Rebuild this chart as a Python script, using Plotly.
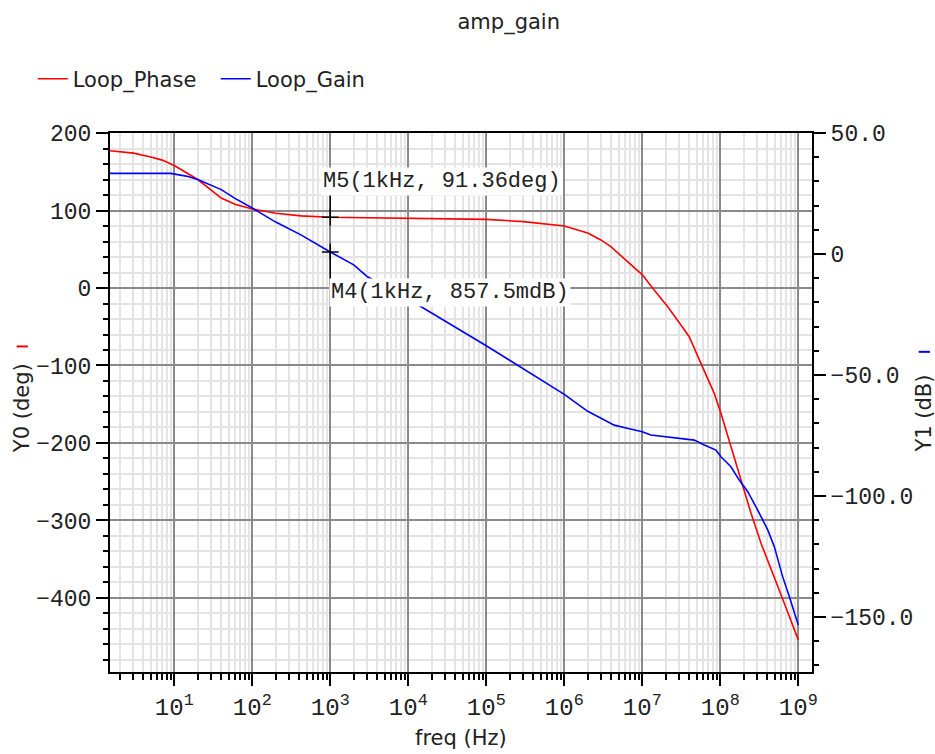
import plotly.graph_objects as go

# ---------------- data ----------------
phase_freq = [1.5, 3, 5, 7, 10, 15, 20, 30, 40, 60, 100, 200, 420, 1000, 1e4, 1e5, 3e5,
              1e6, 2e6, 2.94e6, 3.95e6, 5.86e6, 1.01e7, 1.42e7, 2.11e7, 3.13e7, 4.0e7,
              5.65e7, 8.37e7, 1.02e8, 1.37e8, 1.85e8, 2.48e8, 3.33e8, 4.93e8, 6.62e8, 1e9]
phase_deg = [177, 174, 169, 165, 158, 148, 140, 126, 116, 108, 102, 96.5, 93, 91.36, 90.4, 88.6, 85.6,
             80, 71, 62, 53.3, 38.3, 16.7, -2.6, -24, -47.7, -62.8,
             -97.2, -135.9, -161.7, -204.7, -247.7, -290.7, -329.4, -372.5, -406.8, -454]

gain_freq = [1.5, 9, 12, 15, 20, 30, 40, 60, 100, 200, 420, 1000, 2000, 3000, 1e4, 1e5, 3e5,
             1e6, 2e6, 2.94e6, 4.37e6, 6.4e6, 1.0e7, 1.29e7, 2.11e7, 3.45e7, 4.64e7, 6.23e7,
             8.81e7, 1.02e8, 1.37e8, 1.75e8, 2.25e8, 3.02e8, 4.06e8, 4.93e8, 6.31e8, 7.69e8, 1e9]
gain_db = [33.3, 33.3, 32.6, 32, 30.8, 28.5, 26.6, 23, 19, 13.2, 7.9, 0.8575, -4.5, -9.4, -18.6, -37.9, -47.5,
           -58, -65, -67.9, -70.7, -72, -73.4, -74.8, -75.5, -76.2, -76.9, -78.9,
           -81, -83.8, -87.9, -93.4, -98.2, -105.8, -114, -120.9, -133.3, -141.6, -153.3]

m5_freq, m5_val = 1000, 91.36
m4_freq, m4_val = 1000, 0.8575

x_ticks = [1e1, 1e2, 1e3, 1e4, 1e5, 1e6, 1e7, 1e8, 1e9]
x_ticktext = ["10<sup>%d</sup>" % e for e in range(1, 10)]
y0_ticks = [200, 100, 0, -100, -200, -300, -400]
y0_ticktext = ["200", "100", "0", "−100", "−200", "−300", "−400"]
y1_ticks = [50, 0, -50, -100, -150]
y1_ticktext = ["50.0", "0", "−50.0", "−100.0", "−150.0"]

TXT = "DejaVu Sans"
MONO = "Liberation Mono"

fig = go.Figure()
fig.add_trace(go.Scatter(x=phase_freq, y=phase_deg, name="Loop_Phase", mode="lines",
                         line=dict(color="#ff0000", width=1.6), yaxis="y"))
fig.add_trace(go.Scatter(x=gain_freq, y=gain_db, name="Loop_Gain", mode="lines",
                         line=dict(color="#0000ff", width=1.6), yaxis="y2"))

# marker stems and crosses
fig.add_trace(go.Scatter(x=[m5_freq, m5_freq], y=[m5_val, 122], mode="lines", showlegend=False,
                         line=dict(color="black", width=1.3), yaxis="y", hoverinfo="skip"))
fig.add_trace(go.Scatter(x=[m4_freq, m4_freq], y=[m4_val, -12.5], mode="lines", showlegend=False,
                         line=dict(color="black", width=1.3), yaxis="y2", hoverinfo="skip"))
fig.add_trace(go.Scatter(x=[m5_freq], y=[m5_val], mode="markers", showlegend=False, yaxis="y",
                         marker=dict(symbol="cross-thin", size=12, line=dict(color="black", width=1.5))))
fig.add_trace(go.Scatter(x=[m4_freq], y=[m4_val], mode="markers", showlegend=False, yaxis="y2",
                         marker=dict(symbol="cross-thin", size=12, line=dict(color="black", width=1.5))))

fig.add_annotation(x=3, y=138, xref="x", yref="y", text="M5(1kHz, 91.36deg)", showarrow=False,
                   xanchor="left", yanchor="middle", xshift=-9, bgcolor="white", borderpad=1,
                   font=dict(family=MONO, size=22, color="#222"))
fig.add_annotation(x=3, y=-15.7, xref="x", yref="y2", text="M4(1kHz, 857.5mdB)", showarrow=False,
                   xanchor="left", yanchor="middle", xshift=-1, bgcolor="white", borderpad=1,
                   font=dict(family=MONO, size=22, color="#222"))

# axis titles (placed explicitly)
fig.add_annotation(x=0.5, y=-0.122, xref="paper", yref="paper", text="freq (Hz)", showarrow=False,
                   xanchor="center", yanchor="middle", font=dict(family=TXT, size=21, color="#222"))
fig.add_annotation(x=-0.125, y=0.49, xref="paper", yref="paper", text="Y0 (deg)", showarrow=False,
                   textangle=-90, xanchor="center", yanchor="middle",
                   font=dict(family=TXT, size=21, color="#222"))
fig.add_annotation(x=1.16, y=0.48, xref="paper", yref="paper", text="Y1 (dB)", showarrow=False,
                   textangle=-90, xanchor="center", yanchor="middle",
                   font=dict(family=TXT, size=21, color="#222"))

# colored dashes next to axis titles
fig.add_shape(type="line", xref="paper", yref="paper", x0=-0.133, x1=-0.117, y0=0.604, y1=0.604,
              line=dict(color="#ff0000", width=2))
fig.add_shape(type="line", xref="paper", yref="paper", x0=1.152, x1=1.168, y0=0.594, y1=0.594,
              line=dict(color="#0000ff", width=2))

major_grid = "#8a8a8a"
minor_grid = "#e4e4e4"

fig.update_layout(
    width=935, height=754,
    margin=dict(l=110, r=123, t=133, b=82),
    paper_bgcolor="white", plot_bgcolor="white",
    font=dict(family=TXT, size=20, color="#222"),
    title=dict(text="amp_gain", x=0.568, xref="paper", xanchor="center",
               y=1 - 22 / 754, yref="container", yanchor="middle",
               font=dict(family=TXT, size=21, color="#222")),
    legend=dict(orientation="h", x=-0.11, xanchor="left", y=1.10, yanchor="middle",
                font=dict(family=TXT, size=21, color="#222"), bgcolor="rgba(0,0,0,0)",
                itemwidth=30, tracegroupgap=0, entrywidth=138, entrywidthmode="pixels"),
    xaxis=dict(type="log", range=[0.176, 9.176], tickmode="array", tickvals=x_ticks,
               ticktext=x_ticktext, automargin=False,
               showline=True, linecolor="black", linewidth=2, mirror=True,
               ticks="outside", ticklen=12, tickwidth=1.5, tickcolor="black",
               showgrid=True, gridcolor=major_grid, gridwidth=1.5,
               tickfont=dict(family=MONO, size=24, color="#222"),
               minor=dict(dtick="D1", ticks="outside", ticklen=6, tickwidth=1.5, tickcolor="black",
                          showgrid=True, gridcolor=minor_grid, gridwidth=1.5),
               zeroline=False),
    yaxis=dict(range=[-495.5, 200], tickmode="array", tickvals=y0_ticks, ticktext=y0_ticktext,
               automargin=False,
               showline=True, linecolor="black", linewidth=2,
               ticks="outside", ticklen=12, tickwidth=1.5, tickcolor="black",
               showgrid=True, gridcolor=major_grid, gridwidth=1.5, zeroline=False,
               tickfont=dict(family=MONO, size=23, color="#222"),
               minor=dict(tickmode="linear", tick0=0, dtick=20, ticks="outside", ticklen=5,
                          tickwidth=1.5, tickcolor="black", showgrid=True, gridcolor=minor_grid,
                          gridwidth=1.5)),
    yaxis2=dict(overlaying="y", side="right", range=[-172.7, 50], tickmode="array",
                tickvals=y1_ticks, ticktext=y1_ticktext, automargin=False,
                showline=True, linecolor="black", linewidth=2,
                ticks="outside", ticklen=12, tickwidth=1.5, tickcolor="black",
                showgrid=False, zeroline=False,
                tickfont=dict(family=MONO, size=23, color="#222"),
                minor=dict(tickmode="linear", tick0=0, dtick=10, ticks="outside", ticklen=5,
                           tickwidth=1.5, tickcolor="black", showgrid=False)),
)

fig.write_html("out.html")
